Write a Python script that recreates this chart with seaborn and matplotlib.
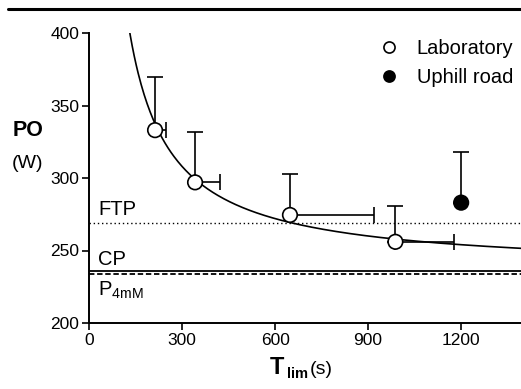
import matplotlib
matplotlib.use("Agg")
import matplotlib.pyplot as plt
from matplotlib.lines import Line2D
import numpy as np
import pandas as pd
import seaborn as sns

# laboratory trials (mean, one-sided SD)
lab_t = [213, 342, 648, 988]
lab_po = [333, 297, 274.5, 256]
lab_po_sd = [37, 35, 28.5, 25]
lab_t_sd = [35, 82, 271, 190]

# uphill road trial
road_t = [1200]
road_po = [283]
road_po_sd = [35]

# reference power levels (W)
ftp = 269
cp = 236
p4mm = 234
w_prime = 21600  # J, hyperbolic model P = CP + W'/t

x_ticks = [0, 300, 600, 900, 1200]
y_ticks = [200, 250, 300, 350, 400]

sns.set_style("ticks")
plt.rcParams["font.family"] = ["Liberation Sans", "DejaVu Sans"]
plt.rcParams["mathtext.fontset"] = "custom"
plt.rcParams["mathtext.rm"] = "Liberation Sans"
plt.rcParams["mathtext.bf"] = "Liberation Sans:bold"
plt.rcParams["text.color"] = "black"
plt.rcParams["xtick.color"] = "black"
plt.rcParams["ytick.color"] = "black"

W, H = 521, 389
fig = plt.figure(figsize=(W / 100, H / 100), dpi=100)
ax = fig.add_axes([89 / W, 1 - 323 / H, 1 - 89 / W, (323 - 33) / H])

# model curve
t_fit = np.linspace(120, 1400, 400)
fit = pd.DataFrame({"t": t_fit, "po": cp + w_prime / t_fit})
sns.lineplot(data=fit, x="t", y="po", ax=ax, color="black", lw=1.2, zorder=2)

# reference lines
ax.axhline(ftp, color="black", lw=1.0, ls=(0, (1, 2)), zorder=1)
ax.axhline(cp, color="black", lw=1.3, zorder=1)
ax.axhline(p4mm, color="black", lw=1.3, ls=(0, (3, 1.5)), zorder=1)

# error bars (upper / right only)
ax.errorbar(lab_t, lab_po, yerr=[[0] * 4, lab_po_sd], xerr=[[0] * 4, lab_t_sd],
            fmt="none", ecolor="black", elinewidth=1.2, capsize=5.5, capthick=1.2, zorder=3)
ax.errorbar(road_t, road_po, yerr=[[0], road_po_sd],
            fmt="none", ecolor="black", elinewidth=1.2, capsize=5.5, capthick=1.2, zorder=3)

pts = pd.DataFrame({"t": lab_t + road_t, "po": lab_po + road_po,
                    "cond": ["Laboratory"] * 4 + ["Uphill road"]})
sns.scatterplot(data=pts, x="t", y="po", hue="cond",
                palette={"Laboratory": "white", "Uphill road": "black"},
                edgecolor="black", linewidth=1.2, s=110, ax=ax, zorder=4, legend=False)

ax.set_xlim(0, 1393)
ax.set_ylim(200, 400)
ax.set_xticks(x_ticks)
ax.set_yticks(y_ticks)
ax.set_xlabel("")
ax.set_ylabel("")
ax.tick_params(labelsize=12.5, length=5, width=1.2, pad=2, colors="black")
sns.despine(ax=ax)
for s in ["left", "bottom"]:
    ax.spines[s].set_linewidth(1.4)
    ax.spines[s].set_color("black")

# line labels
ax.text(30, 274.5, "FTP", fontsize=14.5, va="baseline")
ax.text(30, 240, "CP", fontsize=14.5, va="baseline")
ax.text(30, 218.5, r"P$_{\mathrm{4mM}}$", fontsize=14.5, va="baseline")

handles = [
    Line2D([], [], ls="none", marker="o", ms=8, mfc="white", mec="black", mew=1.2),
    Line2D([], [], ls="none", marker="o", ms=8, mfc="black", mec="black", mew=1.2),
]
ax.legend(handles, ["Laboratory", "Uphill road"], loc="upper left",
          bbox_to_anchor=(0.672, 0.978), frameon=False, fontsize=14.5,
          handlelength=1.0, handletextpad=0.85, labelspacing=0.5,
          borderpad=0, borderaxespad=0)

# axis titles
fig.text(13 / W, 1 - 130 / H, "PO", fontsize=15.5, fontweight="bold", va="center")
fig.text(12 / W, 1 - 163 / H, "(W)", fontsize=14, va="center")
fig.text(270 / W, 1 - 374 / H, "T", fontsize=17, fontweight="bold", va="baseline")
fig.text(287 / W, 1 - 378 / H, "lim", fontsize=10.5, fontweight="bold", va="baseline")
fig.text(310 / W, 1 - 374 / H, "(s)", fontsize=14, va="baseline")

# top rule
fig.add_artist(Line2D([8 / W, 1], [1 - 8.5 / H, 1 - 8.5 / H], color="black",
                      lw=2.2, transform=fig.transFigure))

fig.savefig("out.png", dpi=100)
